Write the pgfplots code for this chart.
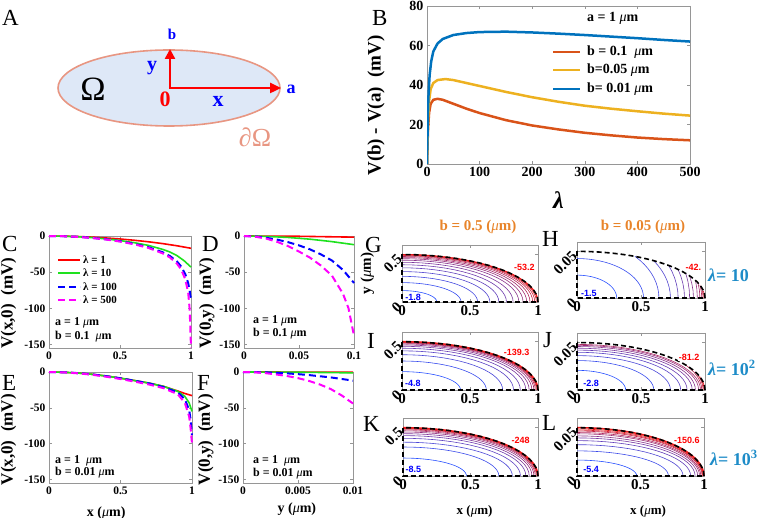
\documentclass[border=0pt]{standalone}
\usepackage{fontspec}
\setmainfont{Liberation Serif}
\newfontfamily\lsans{Liberation Sans}
\usepackage{pgfplots}
\pgfplotsset{compat=1.18}
\usepackage{pgfplotstable}
\usetikzlibrary{arrows.meta}

\definecolor{mred}{rgb}{0.851,0.325,0.098}
\definecolor{myel}{rgb}{0.929,0.694,0.125}
\definecolor{mblu}{rgb}{0,0.447,0.741}
\definecolor{cB}{RGB}{40,80,255}
\definecolor{cR}{RGB}{235,25,25}
\definecolor{borange}{RGB}{232,132,42}
\definecolor{lamblue}{RGB}{30,140,200}
\definecolor{axgray}{RGB}{150,150,150}
\definecolor{efill}{RGB}{222,232,247}
\definecolor{eline}{RGB}{232,150,130}
\definecolor{lgreen}{RGB}{30,225,30}
\definecolor{lred}{RGB}{255,0,0}
\definecolor{lblue}{RGB}{0,0,255}
\definecolor{lmag}{RGB}{255,0,255}

\newcommand{\fs}[1]{\fontsize{#1}{#1}\selectfont}
\newcommand{\mum}{{\mdseries\itshape μ}m}

\pgfplotstableread{
u v
1.0000 0.0000
0.9962 0.0872
0.9848 0.1736
0.9659 0.2588
0.9397 0.3420
0.9063 0.4226
0.8660 0.5000
0.8192 0.5736
0.7660 0.6428
0.7071 0.7071
0.6428 0.7660
0.5736 0.8192
0.5000 0.8660
0.4226 0.9063
0.3420 0.9397
0.2588 0.9659
0.1736 0.9848
0.0872 0.9962
0.0000 1.0000
}\qc

\newcommand{\ct}[3]{\addplot[line width=0.6pt, color=cR!#3!cB] table[x expr=\thisrow{u}*#1, y expr=\thisrow{v}*#2]{\qc};}
\newcommand{\ctc}[4]{\addplot[line width=0.6pt, color=cR!#3!cB, skip coords between index={#4}{19}] table[x expr=\thisrow{u}*#1, y expr=\thisrow{v}*#2]{\qc};}
\newcommand{\rbd}[2]{\addplot[cR, line width=#2] table[x expr=\thisrow{u}, y expr=\thisrow{v}*#1]{\qc};}
\newcommand{\bnd}[1]{\addplot[black, line width=1.6pt, dash pattern=on 5pt off 3pt] table[x expr=\thisrow{u}, y expr=\thisrow{v}*#1]{\qc};
\addplot[black, line width=1.6pt, dash pattern=on 5pt off 3pt] coordinates {(0,#1) (0,0) (1,0)};}

\tikzset{clab/.style={font=\lsans\bfseries\fs{9}, anchor=west, inner sep=0.5pt},
 l1/.style={color=lred, line width=1.6pt},
 l10/.style={color=lgreen, line width=1.6pt},
 l100/.style={color=lblue, line width=2pt, dash pattern=on 7pt off 4pt},
 l500/.style={color=lmag, line width=2pt, dash pattern=on 7pt off 4pt}}

\pgfplotsset{
 mat/.style={scale only axis, axis line style={axgray, line width=0.6pt}, tick style={axgray, line width=0.6pt}, major tick length=3pt, /pgf/number format/assume math mode=true, scaled ticks=false},
 vp/.style={mat, xmin=0, xmax=1, ymin=-155, ymax=0, clip=false, ytick={-150,-100,-50,0}, yticklabels={-150,-100,-50,0}, tick label style={font=\bfseries\fs{11.5}}, ylabel style={font=\bfseries\fs{17}, anchor=south}, xlabel style={font=\bfseries\fs{14}, anchor=north}},
 cax/.style={mat, xmin=0, xmax=1, ymin=0, clip=false, xtick={0,0.5,1}, xticklabels={0,0.5,1}, tick label style={font=\bfseries\fs{15}}, yticklabel style={rotate=45, anchor=east}, xlabel style={font=\bfseries\fs{13}, anchor=north}},
}

\begin{document}
\begin{tikzpicture}
\useasboundingbox (0,0) rectangle (760pt,-518pt);

% ---------- A ----------
\begin{axis}[at={(0pt,0pt)}, anchor=north west, scale only axis, width=340pt, height=180pt,
 xmin=0, xmax=340, ymin=-180, ymax=0, axis lines=none, clip=false]
 \draw[eline, line width=1.6pt, fill=efill] (axis cs:169,-88) ellipse [x radius=111, y radius=38];
 \draw[lred, line width=2.4pt, -{Triangle[length=10pt,width=10pt]}] (axis cs:170,-89.2) -- (axis cs:170,-49);
 \draw[lred, line width=2.4pt, -{Triangle[length=11pt,width=10pt]}] (axis cs:168.8,-88) -- (axis cs:281,-88);
 \node[lblue, font=\bfseries\fs{15}] at (axis cs:172,-34) {b};
 \node[lblue, font=\bfseries\fs{20}] at (axis cs:152,-68) {y};
 \node[lred, font=\bfseries\fs{22}] at (axis cs:165,-99) {0};
 \node[lblue, font=\bfseries\fs{22}] at (axis cs:218,-101) {x};
 \node[lblue, font=\bfseries\fs{18}] at (axis cs:291,-89) {a};
 \node[font=\fs{34}] at (axis cs:93,-89) {Ω};
 \node[eline, font=\fs{26}] at (axis cs:255,-137) {∂Ω};
\end{axis}

% ---------- B ----------
\begin{axis}[mat, at={(427pt,-6pt)}, anchor=north west, width=263pt, height=158pt,
 xmin=0, xmax=500, ymin=0, ymax=80, xtick={0,100,200,300,400,500}, ytick={0,20,40,60,80},
 tick label style={font=\bfseries\fs{14}},
 xlabel={\bfseries\itshape λ}, xlabel style={font=\fs{24}, at={(axis description cs:0.5,-0.15)}, anchor=north},
 ylabel={V(b) - V(a)\ \ (mV)}, ylabel style={font=\bfseries\fs{19}, at={(axis description cs:-0.148,0.37)}, anchor=south}]
\addplot[mred, line width=2.5pt] coordinates {(0,0)(1,10)(2,18)(4,26)(7,30.5)(12,32.5)(20,33)(30,32.5)(50,30.5)(75,28)(100,25.8)(150,22.2)(200,19.5)(250,17.5)(300,15.8)(350,14.5)(400,13.4)(450,12.6)(500,12)};
\addplot[myel, line width=2.5pt] coordinates {(0,0)(1,12)(2,22)(4,32)(7,38)(12,41)(20,42.5)(35,43)(50,42.5)(75,41)(100,39.5)(150,36.5)(200,33.8)(250,31.5)(300,29.5)(350,28)(400,26.7)(450,25.5)(500,24.5)};
\addplot[mblu, line width=2.5pt] coordinates {(0,0)(1,15)(2,28)(3,36)(5,45)(8,52)(12,57)(20,61)(30,63.3)(50,65.3)(75,66.3)(100,66.8)(150,67)(200,66.6)(250,66)(300,65.3)(350,64.5)(400,63.7)(450,62.8)(500,62)};
\end{axis}
% legend of B
\draw[mred, line width=2.5pt] (553pt,-52pt) -- (580pt,-52pt);
\draw[myel, line width=2.5pt] (553pt,-70pt) -- (580pt,-70pt);
\draw[mblu, line width=2.5pt] (553pt,-89pt) -- (580pt,-89pt);
\begin{scope}[every node/.style={anchor=west, inner sep=0, font=\bfseries\fs{14}}]
\node at (587pt,-52pt) {b = 0.1\ \ \mum};
\node at (587pt,-70pt) {b=0.05 \mum};
\node at (587pt,-89pt) {b= 0.01 \mum};
\node at (587pt,-18pt) {a = 1 \mum};
\end{scope}

% ---------- C ----------
\begin{axis}[vp, at={(49pt,-236pt)}, anchor=north west, width=142pt, height=112pt,
 xtick={0,0.5,1}, xticklabels={0,0.5,1},
 ylabel={V(x,0)\ \ (mV)}, ylabel style={at={(axis description cs:-0.205,0.40)}}]
\addplot[l1] coordinates {(0,0)(0.1,-0.2)(0.2,-0.7)(0.3,-1.5)(0.4,-2.7)(0.5,-4.1)(0.6,-5.9)(0.7,-8)(0.8,-10.5)(0.9,-13.5)(1,-17)};
\addplot[l10] coordinates {(0,0)(0.1,-0.3)(0.2,-1)(0.3,-2.2)(0.4,-4)(0.5,-6.3)(0.6,-9.2)(0.7,-13)(0.8,-18.5)(0.85,-22)(0.9,-27)(0.95,-34)(1,-43)};
\addplot[l100] coordinates {(0,0)(0.1,-0.3)(0.2,-1.1)(0.3,-2.5)(0.4,-4.5)(0.5,-7.2)(0.6,-10.8)(0.7,-15.5)(0.8,-22.5)(0.85,-27.5)(0.9,-35)(0.93,-42)(0.96,-53)(0.98,-65)(0.99,-75)(1,-88)};
\addplot[l500] coordinates {(0,0)(0.1,-0.3)(0.2,-1.2)(0.3,-2.7)(0.4,-4.8)(0.5,-7.7)(0.6,-11.5)(0.7,-16.5)(0.8,-24)(0.85,-29.5)(0.9,-38)(0.93,-46)(0.96,-60)(0.98,-78)(0.99,-100)(0.995,-125)(1,-155)};
\end{axis}
% legend of C
\draw[l1] (58pt,-260pt) -- (80pt,-260pt);
\draw[l10] (58pt,-273pt) -- (80pt,-273pt);
\draw[l100] (58pt,-287pt) -- (80pt,-287pt);
\draw[l500] (58pt,-300pt) -- (80pt,-300pt);
\begin{scope}[every node/.style={anchor=west, inner sep=0, font=\bfseries\fs{11}}]
\node at (83pt,-260pt) {λ = 1};
\node at (83pt,-273pt) {λ = 10};
\node at (83pt,-287pt) {λ = 100};
\node at (83pt,-300pt) {λ = 500};
\end{scope}

% ---------- D ----------
\begin{axis}[vp, at={(244pt,-236pt)}, anchor=north west, width=110pt, height=112pt,
 xmax=0.1, xtick={0,0.05,0.1}, xticklabels={0,0.05,0.1},
 ylabel={V(0,y)\ \ (mV)}, ylabel style={at={(axis description cs:-0.236,0.40)}}]
\addplot[l1] coordinates {(0,0)(0.05,-0.4)(0.1,-1.6)};
\addplot[l10] coordinates {(0,0)(0.02,-0.5)(0.04,-2)(0.06,-4.4)(0.08,-7.8)(0.1,-12)};
\addplot[l100] coordinates {(0,0)(0.01,-0.6)(0.02,-2.4)(0.03,-5)(0.04,-8.5)(0.05,-13)(0.06,-18.5)(0.07,-25.5)(0.08,-34)(0.09,-47)(0.1,-65)};
\addplot[l500] coordinates {(0,0)(0.01,-0.9)(0.02,-3.5)(0.03,-8)(0.04,-14)(0.05,-21.5)(0.06,-30)(0.07,-41)(0.08,-55)(0.09,-80)(0.095,-100)(0.1,-138)};
\end{axis}

% ---------- E ----------
\begin{axis}[vp, at={(49pt,-372pt)}, anchor=north west, width=143pt, height=111pt,
 xtick={0,0.5,1}, xticklabels={0,0.5,1},
 ylabel={V(x,0)\ \ (mV)}, ylabel style={at={(axis description cs:-0.205,0.39)}},
 xlabel={x (\mum)}, xlabel style={at={(axis description cs:0.4,-0.18)}}]
\addplot[l1] coordinates {(0,0)(0.1,-0.4)(0.2,-1.4)(0.3,-3.2)(0.4,-5.6)(0.5,-8.6)(0.6,-12)(0.7,-15.5)(0.8,-20)(0.9,-26.5)(0.95,-30)(1,-33)};
\addplot[l10] coordinates {(0,0)(0.1,-0.4)(0.2,-1.4)(0.3,-3.2)(0.4,-5.6)(0.5,-8.6)(0.6,-12)(0.7,-15.5)(0.8,-20)(0.9,-27)(0.95,-34)(0.98,-43)(1,-55)};
\addplot[l100] coordinates {(0,0)(0.1,-0.4)(0.2,-1.5)(0.3,-3.3)(0.4,-5.8)(0.5,-8.8)(0.6,-12.3)(0.7,-16)(0.8,-21)(0.9,-28.5)(0.95,-38)(0.98,-53)(0.99,-66)(1,-88)};
\addplot[l500] coordinates {(0,0)(0.1,-0.5)(0.2,-1.8)(0.3,-3.8)(0.4,-6.6)(0.5,-9.8)(0.6,-13.5)(0.7,-17.5)(0.8,-22.5)(0.9,-31)(0.95,-43)(0.98,-62)(0.99,-78)(1,-100)};
\end{axis}

% ---------- F ----------
\begin{axis}[vp, at={(243pt,-372pt)}, anchor=north west, width=110pt, height=111pt,
 xmax=0.01, xtick={0,0.005,0.01}, xticklabels={0,0.005,0.01},
 ylabel={V(0,y)\ \ (mV)}, ylabel style={at={(axis description cs:-0.236,0.39)}},
 xlabel={y (\mum)}, xlabel style={at={(axis description cs:0.49,-0.15)}}]
\addplot[l1] coordinates {(0,0)(0.005,-0.1)(0.01,-0.3)};
\addplot[l10] coordinates {(0,0)(0.005,-0.3)(0.01,-1.2)};
\addplot[l100] coordinates {(0,0)(0.002,-0.5)(0.004,-1.9)(0.005,-3)(0.006,-4.3)(0.008,-7.6)(0.01,-12)};
\addplot[l500] coordinates {(0,0)(0.001,-0.4)(0.002,-1.5)(0.003,-3.4)(0.004,-5.6)(0.005,-8.5)(0.006,-12.5)(0.007,-17.5)(0.008,-24)(0.009,-33)(0.01,-44)};
\end{axis}

% text in C-F
\begin{scope}[every node/.style={anchor=north west, inner sep=0, font=\bfseries\fs{12}}]
\node at (55pt,-317pt) {a = 1 \mum};
\node at (55pt,-331pt) {b = 0.1\ \ \mum};
\node at (253pt,-315pt) {a = 1 \mum};
\node at (253pt,-328pt) {b = 0.1 \mum};
\node at (55pt,-455pt) {a = 1\ \ \mum};
\node at (55pt,-467pt) {b = 0.01 \mum};
\node at (253pt,-455pt) {a = 1\ \ \mum};
\node at (253pt,-468pt) {b = 0.01 \mum};
\end{scope}

% ---------- G ----------
\begin{axis}[cax, at={(402pt,-245pt)}, anchor=north west, width=136pt, height=57pt,
 ymax=0.6, ytick={0,0.5}, yticklabels={0,0.5},
 ylabel={y (\mum)}, ylabel style={font=\bfseries\fs{15}, at={(axis description cs:-0.18,0.5)}, anchor=south}]
\ct{0.256}{0.120}{0}
\ct{0.434}{0.204}{7}
\ct{0.556}{0.270}{14}
\ct{0.646}{0.320}{21}
\ct{0.712}{0.360}{29}
\ct{0.768}{0.392}{36}
\ct{0.817}{0.418}{43}
\ct{0.859}{0.440}{50}
\ct{0.890}{0.456}{57}
\ct{0.917}{0.468}{64}
\ct{0.941}{0.479}{71}
\ct{0.961}{0.487}{79}
\ct{0.976}{0.493}{86}
\ct{0.988}{0.497}{93}
\ct{0.997}{0.4995}{100}
\rbd{0.5}{1pt}
\bnd{0.5}
\node[clab, lblue] at (axis cs:0.02,0.053) {-1.8};
\node[clab, lred, fill=white] at (axis cs:0.82,0.36) {-53.2};
\end{axis}

% ---------- H ----------
\begin{axis}[cax, at={(577pt,-242pt)}, anchor=north west, width=128pt, height=56pt,
 ymax=0.06, ytick={0,0.05}, yticklabels={0,0.05}]
\ct{0.31}{0.0245}{0}
\ct{0.52}{0.0423}{7}
\ctc{0.64}{0.0631}{14}{10}
\ctc{0.73}{0.0699}{21}{8}
\ctc{0.79}{0.0826}{29}{6}
\ctc{0.84}{0.0898}{36}{5}
\ctc{0.88}{0.1018}{43}{4}
\ctc{0.91}{0.0921}{50}{4}
\ctc{0.94}{0.1089}{57}{3}
\ctc{0.96}{0.0938}{64}{3}
\ctc{0.975}{0.0804}{71}{3}
\ctc{0.985}{0.0700}{79}{3}
\ctc{0.992}{0.0878}{86}{2}
\ctc{0.997}{0.0668}{93}{2}
\ctc{0.999}{0.0562}{100}{2}
\bnd{0.05}
\node[clab, lblue] at (axis cs:0.026,0.0052) {-1.5};
\node[clab, lred] at (axis cs:0.844,0.0325) {-42.};
\end{axis}

% ---------- I ----------
\begin{axis}[cax, at={(402pt,-332pt)}, anchor=north west, width=136pt, height=58pt,
 ymax=0.6, ytick={0,0.5}, yticklabels={0,0.5}]
\ct{0.43}{0.190}{0}
\ct{0.62}{0.300}{8}
\ct{0.74}{0.365}{17}
\ct{0.82}{0.405}{25}
\ct{0.87}{0.432}{33}
\ct{0.91}{0.452}{42}
\ct{0.935}{0.466}{50}
\ct{0.955}{0.477}{58}
\ct{0.97}{0.485}{67}
\ct{0.98}{0.490}{75}
\ct{0.988}{0.494}{83}
\ct{0.994}{0.497}{92}
\ct{0.998}{0.499}{100}
\rbd{0.5}{1.5pt}
\bnd{0.5}
\node[clab, lblue] at (axis cs:0.017,0.069) {-4.8};
\node[clab, lred, fill=white] at (axis cs:0.744,0.39) {-139.3};
\end{axis}

% ---------- J ----------
\begin{axis}[cax, at={(577pt,-333pt)}, anchor=north west, width=128pt, height=57pt,
 ymax=0.06, ytick={0,0.05}, yticklabels={0,0.05}]
\ct{0.38}{0.0207}{0}
\ct{0.60}{0.0310}{8}
\ct{0.73}{0.0362}{17}
\ct{0.81}{0.0397}{25}
\ct{0.86}{0.0420}{33}
\ct{0.90}{0.0440}{42}
\ct{0.925}{0.0458}{50}
\ct{0.95}{0.0470}{58}
\ct{0.965}{0.0480}{67}
\ctc{0.975}{0.0536}{75}{7}
\ctc{0.985}{0.0553}{83}{5}
\ctc{0.992}{0.0553}{92}{4}
\ctc{0.997}{0.0546}{100}{3}
\bnd{0.05}
\node[clab, lblue] at (axis cs:0.044,0.007) {-2.8};
\node[clab, lred, fill=white] at (axis cs:0.79,0.034) {-81.2};
\end{axis}

% ---------- K ----------
\begin{axis}[cax, at={(403pt,-418pt)}, anchor=north west, width=135pt, height=58pt,
 ymax=0.6, ytick={0,0.5}, yticklabels={0,0.5},
 xlabel={x (\mum)}, xlabel style={at={(axis description cs:0.53,-0.45)}}]
\ct{0.47}{0.186}{0}
\ct{0.71}{0.300}{9}
\ct{0.81}{0.350}{18}
\ct{0.87}{0.390}{27}
\ct{0.91}{0.418}{36}
\ct{0.935}{0.438}{45}
\ct{0.955}{0.455}{55}
\ct{0.97}{0.468}{64}
\ct{0.98}{0.478}{73}
\ct{0.988}{0.486}{82}
\ct{0.994}{0.492}{91}
\ct{0.998}{0.497}{100}
\rbd{0.5}{1.5pt}
\bnd{0.5}
\node[clab, lblue] at (axis cs:0.015,0.072) {-8.5};
\node[clab, lred, fill=white] at (axis cs:0.80,0.37) {-248};
\end{axis}

% ---------- L ----------
\begin{axis}[cax, at={(577pt,-418pt)}, anchor=north west, width=127pt, height=58pt,
 ymax=0.06, ytick={0,0.05}, yticklabels={0,0.05},
 xlabel={x (\mum)}, xlabel style={at={(axis description cs:0.56,-0.45)}}]
\ct{0.47}{0.0165}{0}
\ct{0.72}{0.0260}{10}
\ct{0.835}{0.0324}{20}
\ct{0.895}{0.0366}{30}
\ct{0.93}{0.0394}{40}
\ct{0.95}{0.0415}{50}
\ct{0.965}{0.0437}{60}
\ct{0.975}{0.0450}{70}
\ct{0.985}{0.0465}{80}
\ct{0.99}{0.0475}{90}
\ct{0.995}{0.0486}{100}
\rbd{0.05}{1.5pt}
\bnd{0.05}
\node[clab, lblue] at (axis cs:0.044,0.007) {-5.4};
\node[clab, lred, fill=white] at (axis cs:0.76,0.037) {-150.6};
\end{axis}

% titles and lambda labels
\node[borange, font=\bfseries\fs{15}] at (478pt,-227pt) {b = 0.5 (\mum)};
\node[borange, font=\bfseries\fs{15}] at (643pt,-227pt) {b = 0.05 (\mum)};
\node[lamblue, anchor=west, font=\bfseries\fs{18}, inner sep=0] at (708pt,-275pt) {{\itshape λ}= 10};
\node[lamblue, anchor=west, font=\bfseries\fs{18}, inner sep=0] at (708pt,-368pt) {{\itshape λ}= 10\textsuperscript{2}};
\node[lamblue, anchor=west, font=\bfseries\fs{18}, inner sep=0] at (710pt,-458pt) {{\itshape λ}= 10\textsuperscript{3}};

% panel letters
\begin{scope}[every node/.style={anchor=north west, inner sep=0, font=\fs{23}}]
\node at (2pt,-10pt) {A};
\node at (372pt,-10pt) {B};
\node at (2pt,-236pt) {C};
\node at (202pt,-236pt) {D};
\node at (2pt,-375pt) {E};
\node at (197pt,-375pt) {F};
\node at (365pt,-237pt) {G};
\node at (542pt,-231pt) {H};
\node at (367pt,-333pt) {I};
\node at (543pt,-332pt) {J};
\node at (363pt,-416pt) {K};
\node at (542pt,-415pt) {L};
\end{scope}
\end{tikzpicture}
\end{document}
